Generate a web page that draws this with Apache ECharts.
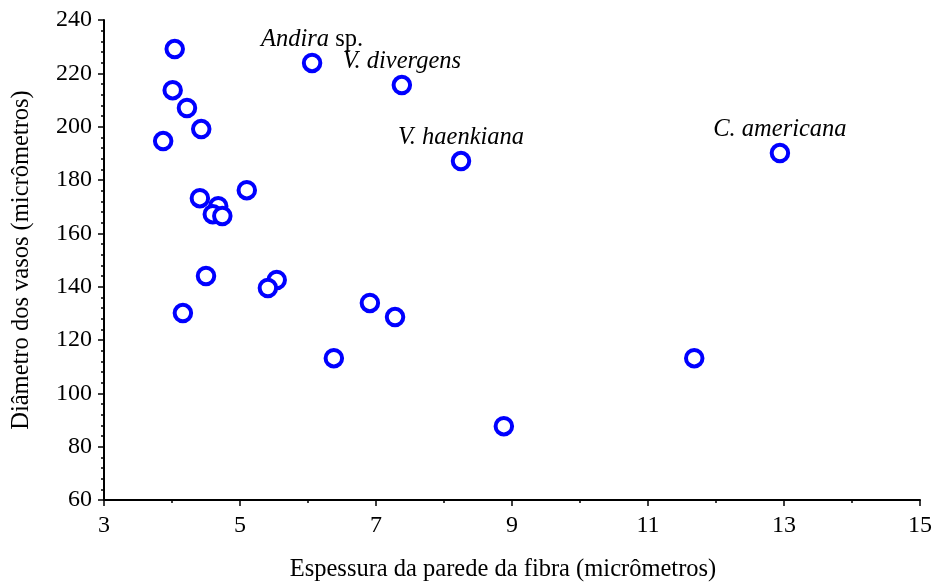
<!DOCTYPE html>
<html><head><meta charset="utf-8">
<script src="https://cdn.jsdelivr.net/npm/echarts@6/dist/echarts.min.js"></script>
<style>html,body{margin:0;padding:0;background:#fff}#c{width:939px;height:588px}</style>
</head><body><div id="c"></div>
<script>
const xs = [4.04, 4.01, 4.22, 4.43, 3.87, 6.06, 7.38, 8.25, 12.94, 5.10, 4.41, 4.68, 4.60, 4.74, 4.50, 5.54, 5.41, 4.16, 6.91, 7.28, 6.38, 11.68, 8.88];
const ys = [229.1, 213.7, 207.0, 199.1, 194.6, 223.9, 215.6, 187.1, 190.1, 176.2, 173.2, 170.2, 167.2, 166.5, 144.0, 142.5, 139.5, 130.1, 133.9, 128.6, 113.2, 113.2, 87.7];
const names = ['', '', '', '', '', 'Andira sp.', 'V. divergens', 'V. haenkiana', 'C. americana', '', '', '', '', '', '', '', '', '', '', '', '', '', ''];
const xTicks = [3, 5, 7, 9, 11, 13, 15];
const yTicks = [60, 80, 100, 120, 140, 160, 180, 200, 220, 240];

const font = 'Liberation Serif';
const data = xs.map((x, i) => {
  const d = { value: [x, ys[i]] };
  if (names[i]) {
    const isAndira = names[i] === 'Andira sp.';
    d.label = {
      show: true, position: 'top', distance: 1,
      formatter: isAndira ? '{i|Andira}{n| sp.}' : '{i|' + names[i] + '}',
      rich: {
        i: { fontFamily: font, fontStyle: 'italic', fontSize: 24.5, color: '#000' },
        n: { fontFamily: font, fontSize: 24.5, color: '#000' }
      }
    };
  }
  return d;
});

const chart = echarts.init(document.getElementById('c'), null, { renderer: 'canvas' });
chart.setOption({
  animation: false,
  backgroundColor: '#fff',
  grid: { left: 104, right: 19, top: 20, bottom: 88, containLabel: false },
  xAxis: {
    type: 'value', min: xTicks[0], max: xTicks[xTicks.length - 1], interval: 2,
    name: 'Espessura da parede da fibra (micrômetros)', nameLocation: 'middle', nameGap: 57,
    nameTextStyle: { fontFamily: font, fontSize: 24.5, color: '#000', padding: [0, 18, 0, 0] },
    axisLine: { lineStyle: { color: '#000', width: 2 } },
    axisTick: { show: true, length: 6, lineStyle: { color: '#000', width: 1.5 } },
    minorTick: { show: true, splitNumber: 2, length: 3, lineStyle: { color: '#000', width: 1.5 } },
    axisLabel: { fontFamily: font, fontSize: 24, color: '#000', margin: 14 },
    splitLine: { show: false }
  },
  yAxis: {
    type: 'value', min: yTicks[0], max: yTicks[yTicks.length - 1], interval: 20,
    name: 'Diâmetro dos vasos (micrômetros)', nameLocation: 'middle', nameGap: 70,
    nameTextStyle: { fontFamily: font, fontSize: 24.5, color: '#000' },
    axisLine: { lineStyle: { color: '#000', width: 2 } },
    axisTick: { show: true, length: 6, lineStyle: { color: '#000', width: 1.5 } },
    minorTick: { show: true, splitNumber: 5, length: 3, lineStyle: { color: '#000', width: 1.5 } },
    axisLabel: { fontFamily: font, fontSize: 24, color: '#000', margin: 12 },
    splitLine: { show: false }
  },
  series: [{
    type: 'scatter',
    symbol: 'circle', symbolSize: 16.5,
    itemStyle: { color: '#fff', borderColor: '#0000ff', borderWidth: 4, opacity: 1 },
    data: data
  }]
});
</script></body></html>
